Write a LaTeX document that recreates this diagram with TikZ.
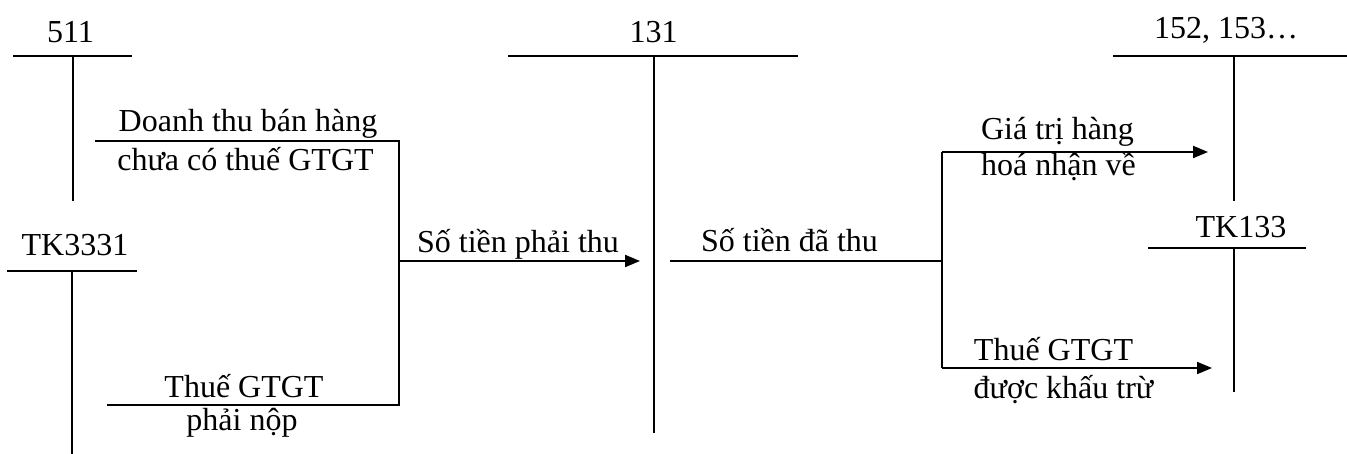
\documentclass[tikz,border=0pt]{standalone}
\usepackage{fontspec}
\setmainfont{Liberation Serif}
\usetikzlibrary{arrows.meta}
\begin{document}
\begin{tikzpicture}[x=0.5pt,y=-0.5pt, line width=1pt,
  lbl/.style={font=\fontsize{16pt}{19pt}\selectfont, inner sep=0pt, anchor=base},
  arr/.style={-{Triangle[length=7.5pt,width=6pt]}}]
\useasboundingbox (0,0) rectangle (1347,454);
% ---------- account titles ----------
\node[lbl] (t511)  at (70.5,43)  {511};
\node[lbl] (t3331) at (75,256)   {TK3331};
\node[lbl] (t131)  at (653.5,43) {131};
\node[lbl] (t152)  at (1226,39)  {152, 153…};
\node[lbl] (t133)  at (1241,237) {TK133};
% ---------- T-account lines ----------
\coordinate (a1) at (13,56);   \coordinate (a2) at (132,56);
\coordinate (a3) at (73,56);   \coordinate (a4) at (73,201);
\draw (a1) -- (a2); \draw (a3) -- (a4);
\coordinate (b1) at (7,271);   \coordinate (b2) at (137,271);
\coordinate (b3) at (72,271);  \coordinate (b4) at (72,454);
\draw (b1) -- (b2); \draw (b3) -- (b4);
\coordinate (c1) at (508,56);  \coordinate (c2) at (798,56);
\coordinate (c3) at (654,56);  \coordinate (c4) at (654,433);
\draw (c1) -- (c2); \draw (c3) -- (c4);
\coordinate (d1) at (1113,56); \coordinate (d2) at (1347,56);
\coordinate (d3) at (1234,56); \coordinate (d4) at (1234,201);
\draw (d1) -- (d2); \draw (d3) -- (d4);
\coordinate (e1) at (1148,248); \coordinate (e2) at (1306,248);
\coordinate (e3) at (1234,248); \coordinate (e4) at (1234,392);
\draw (e1) -- (e2); \draw (e3) -- (e4);
% ---------- left bracket ----------
\coordinate (p1) at (95,141);  \coordinate (p2) at (399,141);
\coordinate (p3) at (399,405); \coordinate (p4) at (107,405);
\coordinate (pj) at (399,261); \coordinate (pa) at (640,261);
\draw (p1) -- (p2) -- (p3) -- (p4);
\draw[arr] (pj) -- (pa);
% ---------- right branch ----------
\coordinate (q0) at (670,261); \coordinate (qj) at (942,261);
\coordinate (qt) at (942,152); \coordinate (qb) at (942,368);
\coordinate (qta) at (1208,152); \coordinate (qba) at (1212,368);
\draw (q0) -- (qj);
\draw (qt) -- (qb);
\draw[arr] (qt) -- (qta);
\draw[arr] (qb) -- (qba);
% ---------- labels ----------
\node[lbl] (l1) at (248,132)   {Doanh thu bán hàng};
\node[lbl] (l2) at (245.5,170) {chưa có thuế GTGT};
\node[lbl] (l3) at (244,397)   {Thuế GTGT};
\node[lbl] (l4) at (242,430)   {phải nộp};
\node[lbl] (l5) at (518,252)   {Số tiền phải thu};
\node[lbl] (l6) at (789.5,251) {Số tiền đã thu};
\node[lbl] (l7) at (1057.5,140) {Giá trị hàng};
\node[lbl] (l8) at (1058.5,176) {hoá nhận về};
\node[lbl] (l9) at (1053.5,360) {Thuế GTGT};
\node[lbl] (l10) at (1063.5,398) {được khấu trừ};
\end{tikzpicture}
\end{document}
